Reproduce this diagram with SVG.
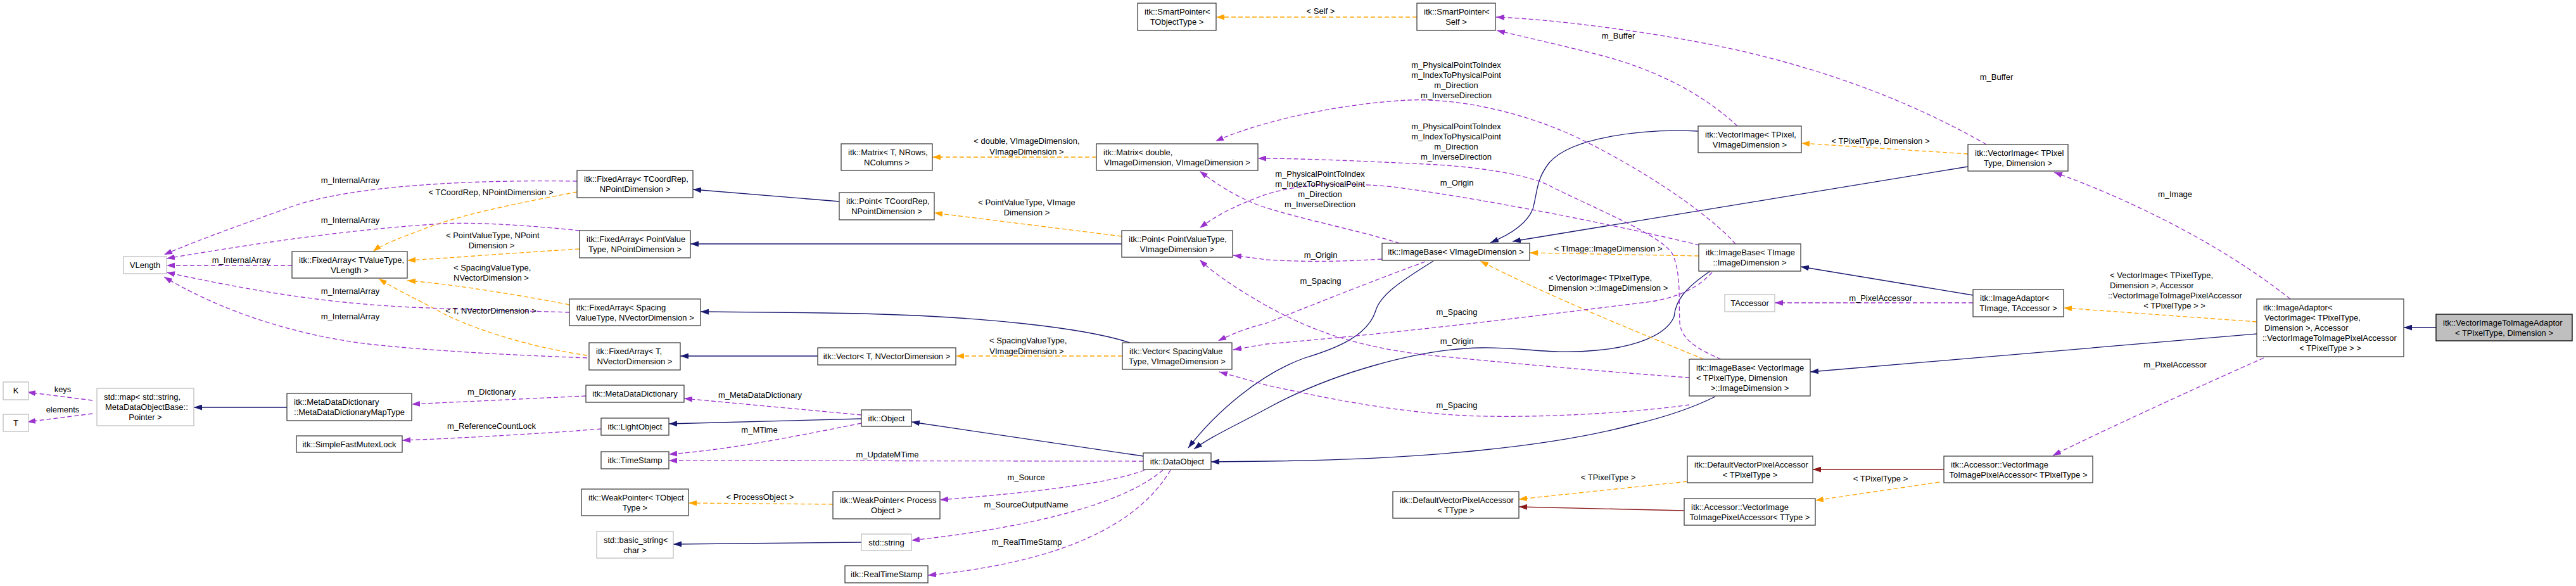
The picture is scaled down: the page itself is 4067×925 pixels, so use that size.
<svg xmlns="http://www.w3.org/2000/svg" width="4067" height="925" viewBox="0 0 4067 925">
<style>
text{font-family:"Liberation Sans",Arial,sans-serif;font-size:13px;fill:#000}
.c{text-anchor:middle}
.l{text-anchor:start}
.nd rect{fill:#fff;stroke:#404040;stroke-width:1.3}
.ng rect{fill:#fff;stroke:#bfbfbf;stroke-width:1.3}
.nm rect{fill:#bfbfbf;stroke:#000;stroke-width:1.3}
#edges path{fill:none;stroke-width:1.3}
.inh{stroke:#191970}
.prot{stroke:#8b1a1a}
.use{stroke:#9a32cd;stroke-dasharray:7,4}
.tpl{stroke:#ffa500;stroke-dasharray:7,4}
.inh{marker-end:url(#mb)}
.prot{marker-end:url(#mr)}
.use{marker-end:url(#mp)}
.tpl{marker-end:url(#mo)}
</style>
<defs>
<marker id="mb" viewBox="0 0 13 9" refX="13" refY="4.5" markerWidth="13" markerHeight="9" markerUnits="userSpaceOnUse" orient="auto"><path d="M0,0L13,4.5L0,9z" fill="#191970"/></marker>
<marker id="mr" viewBox="0 0 13 9" refX="13" refY="4.5" markerWidth="13" markerHeight="9" markerUnits="userSpaceOnUse" orient="auto"><path d="M0,0L13,4.5L0,9z" fill="#8b1a1a"/></marker>
<marker id="mp" viewBox="0 0 13 9" refX="13" refY="4.5" markerWidth="13" markerHeight="9" markerUnits="userSpaceOnUse" orient="auto"><path d="M0,0L13,4.5L0,9z" fill="#9a32cd"/></marker>
<marker id="mo" viewBox="0 0 13 9" refX="13" refY="4.5" markerWidth="13" markerHeight="9" markerUnits="userSpaceOnUse" orient="auto"><path d="M0,0L13,4.5L0,9z" fill="#ffa500"/></marker>
</defs>
<rect x="0" y="0" width="4067" height="925" fill="#fff"/>
<g id="edges">
<path class="inh" d="M3846,517L3795,517"/>
<path class="inh" d="M3563,527L2858,587"/>
<path class="inh" d="M3115,466L2843,421"/>
<path class="inh" d="M3107,263L2388,381"/>
<path class="inh" d="M2681,207C2600,203 2480,215 2445,258C2425,285 2428,300 2420,330C2410,355 2380,372 2353,383"/>
<path class="inh" d="M2263,412C2210,445 2180,465 2172,490C2160,530 2110,550 2060,565C1990,590 1920,650 1876,707"/>
<path class="inh" d="M2700,428C2660,455 2645,475 2643,500C2630,530 2580,548 2520,553C2450,560 2400,548 2340,549C2240,550 2100,590 2000,645C1950,672 1910,690 1885,709"/>
<path class="inh" d="M2708,626C2670,645 2630,658 2580,670C2450,705 2250,725 2000,728L1912,729"/>
<path class="inh" d="M1805,720L1439,666"/>
<path class="inh" d="M1360,661L1056,669"/>
<path class="inh" d="M1360,856L1063,859"/>
<path class="inh" d="M1784,541C1720,520 1560,497 1300,494L1106,492"/>
<path class="inh" d="M1291,562L1074,562"/>
<path class="inh" d="M1771,385L1090,385"/>
<path class="inh" d="M1325,318L1094,299"/>
<path class="inh" d="M453,643L306,643"/>
<path class="prot" d="M3069,741L2862,741"/>
<path class="prot" d="M2659,806L2398,800"/>
<path class="tpl" d="M3563,508L3258,486"/>
<path class="tpl" d="M3062,761L2866,790"/>
<path class="tpl" d="M2664,760L2398,788"/>
<path class="tpl" d="M3107,243L2844,226"/>
<path class="tpl" d="M2682,404L2415,399"/>
<path class="tpl" d="M2690,567C2600,530 2450,470 2337,412"/>
<path class="tpl" d="M2237,27L1920,27"/>
<path class="tpl" d="M1731,248L1472,248"/>
<path class="tpl" d="M1771,373L1475,336"/>
<path class="tpl" d="M1772,562L1509,562"/>
<path class="tpl" d="M1315,796L1087,794"/>
<path class="tpl" d="M911,303C820,320 720,340 660,365C625,378 600,388 589,397"/>
<path class="tpl" d="M915,393C800,400 700,408 643,411"/>
<path class="tpl" d="M899,481C800,462 700,447 643,443"/>
<path class="tpl" d="M927,561C850,550 760,525 700,495C670,478 630,460 598,440"/>
<path class="use" d="M146,632L43,619"/>
<path class="use" d="M146,653L43,666"/>
<path class="use" d="M925,625L650,638"/>
<path class="use" d="M949,677C850,685 700,693 635,695"/>
<path class="use" d="M461,419L263,419"/>
<path class="use" d="M911,286C700,283 530,298 450,330C380,355 310,380 259,402"/>
<path class="use" d="M915,364C850,357 750,350 700,353C550,362 400,385 263,408"/>
<path class="use" d="M899,493C800,490 720,488 650,485C500,478 380,455 263,430"/>
<path class="use" d="M927,565C800,560 700,555 600,545C450,530 330,480 259,437"/>
<path class="use" d="M1360,655L1080,629"/>
<path class="use" d="M1360,668C1250,690 1150,710 1056,717"/>
<path class="use" d="M1805,728L1056,727"/>
<path class="use" d="M1807,742C1750,765 1600,780 1484,789"/>
<path class="use" d="M1836,742C1780,790 1650,830 1439,853"/>
<path class="use" d="M1848,742C1790,840 1650,890 1465,908"/>
<path class="use" d="M3616,472C3500,380 3350,310 3243,272"/>
<path class="use" d="M3574,565C3450,620 3320,680 3241,719"/>
<path class="use" d="M3115,478L2802,478"/>
<path class="use" d="M2743,199C2690,150 2620,112 2530,88C2460,70 2400,57 2363,48"/>
<path class="use" d="M3136,228C3000,150 2850,100 2700,70C2600,50 2450,30 2362,27"/>
<path class="use" d="M2740,385C2700,340 2600,270 2490,217C2400,175 2300,155 2223,158C2100,165 1980,195 1919,223"/>
<path class="use" d="M2717,567C2690,555 2655,540 2652,510C2650,480 2655,430 2640,400C2620,370 2520,330 2450,295C2420,278 2350,265 2268,260C2150,254 2050,250 1986,250"/>
<path class="use" d="M2210,384C2150,365 2050,345 1990,325C1950,310 1920,290 1894,270"/>
<path class="use" d="M2683,387C2550,355 2350,315 2200,295C2100,285 2030,295 1990,310C1950,325 1920,340 1894,360"/>
<path class="use" d="M2182,409C2100,414 2050,413 2000,410L1947,403"/>
<path class="use" d="M2667,596C2550,588 2400,575 2250,560C2120,545 2050,510 2000,483C1960,460 1920,435 1894,410"/>
<path class="use" d="M2250,413C2150,450 2050,490 2000,510C1960,520 1940,530 1923,538"/>
<path class="use" d="M2703,430C2680,455 2650,470 2600,477C2450,495 2250,522 2000,543L1947,552"/>
<path class="use" d="M2667,639C2550,655 2400,660 2313,656C2200,650 2100,630 2000,608L1925,587"/>
<text class="l" x="3331" y="439">&lt; VectorImage&lt; TPixelType,</text>
<text class="l" x="3331" y="455">Dimension &gt;, Accessor</text>
<text class="l" x="3328" y="471">::VectorImageToImagePixelAccessor</text>
<text class="c" x="3433" y="487">&lt; TPixelType &gt; &gt;</text>
<text class="c" x="2969" y="760">&lt; TPixelType &gt;</text>
<text class="c" x="2539" y="758">&lt; TPixelType &gt;</text>
<text class="c" x="2969" y="227">&lt; TPixelType, Dimension &gt;</text>
<text class="c" x="2539" y="397">&lt; TImage::ImageDimension &gt;</text>
<text class="l" x="2445" y="443">&lt; VectorImage&lt; TPixelType,</text>
<text class="c" x="2539" y="459">Dimension &gt;::ImageDimension &gt;</text>
<text class="c" x="2085" y="22">&lt; Self &gt;</text>
<text class="c" x="1621" y="227">&lt; double, VImageDimension,</text>
<text class="c" x="1621" y="244">VImageDimension &gt;</text>
<text class="c" x="1621" y="324">&lt; PointValueType, VImage</text>
<text class="c" x="1621" y="340">Dimension &gt;</text>
<text class="l" x="1562" y="542">&lt; SpacingValueType,</text>
<text class="c" x="1621" y="559">VImageDimension &gt;</text>
<text class="c" x="1200" y="789">&lt; ProcessObject &gt;</text>
<text class="c" x="775" y="308">&lt; TCoordRep, NPointDimension &gt;</text>
<text class="l" x="704" y="376">&lt; PointValueType, NPoint</text>
<text class="c" x="776" y="392">Dimension &gt;</text>
<text class="l" x="716" y="427">&lt; SpacingValueType,</text>
<text class="l" x="716" y="443">NVectorDimension &gt;</text>
<text class="c" x="775" y="495">&lt; T, NVectorDimension &gt;</text>
<text class="c" x="99" y="619">keys</text>
<text class="c" x="99" y="651">elements</text>
<text class="c" x="776" y="623">m_Dictionary</text>
<text class="c" x="776" y="677">m_ReferenceCountLock</text>
<text class="c" x="381" y="415">m_InternalArray</text>
<text class="c" x="553" y="289">m_InternalArray</text>
<text class="c" x="553" y="352">m_InternalArray</text>
<text class="c" x="553" y="464">m_InternalArray</text>
<text class="c" x="553" y="504">m_InternalArray</text>
<text class="c" x="1200" y="628">m_MetaDataDictionary</text>
<text class="c" x="1199" y="683">m_MTime</text>
<text class="c" x="1401" y="722">m_UpdateMTime</text>
<text class="c" x="1620" y="758">m_Source</text>
<text class="c" x="1620" y="801">m_SourceOutputName</text>
<text class="c" x="1621" y="860">m_RealTimeStamp</text>
<text class="c" x="3434" y="311">m_Image</text>
<text class="c" x="3434" y="580">m_PixelAccessor</text>
<text class="c" x="2969" y="475">m_PixelAccessor</text>
<text class="c" x="2555" y="61">m_Buffer</text>
<text class="c" x="3152" y="126">m_Buffer</text>
<text class="c" x="2299" y="107">m_PhysicalPointToIndex</text>
<text class="c" x="2299" y="123">m_IndexToPhysicalPoint</text>
<text class="c" x="2299" y="139">m_Direction</text>
<text class="c" x="2299" y="155">m_InverseDirection</text>
<text class="c" x="2299" y="204">m_PhysicalPointToIndex</text>
<text class="c" x="2299" y="220">m_IndexToPhysicalPoint</text>
<text class="c" x="2299" y="236">m_Direction</text>
<text class="c" x="2299" y="252">m_InverseDirection</text>
<text class="c" x="2084" y="279">m_PhysicalPointToIndex</text>
<text class="c" x="2084" y="295">m_IndexToPhysicalPoint</text>
<text class="c" x="2084" y="311">m_Direction</text>
<text class="c" x="2084" y="327">m_InverseDirection</text>
<text class="c" x="2300" y="293">m_Origin</text>
<text class="c" x="2085" y="407">m_Origin</text>
<text class="c" x="2300" y="543">m_Origin</text>
<text class="c" x="2085" y="448">m_Spacing</text>
<text class="c" x="2300" y="497">m_Spacing</text>
<text class="c" x="2300" y="644">m_Spacing</text>
</g>
<g id="n_K" class="ng"><rect x="5" y="603" width="40" height="28"/><text class="c" x="25" y="621">K</text></g>
<g id="n_T" class="ng"><rect x="5" y="654" width="40" height="27"/><text class="c" x="25" y="672">T</text></g>
<g id="n_stdmap" class="ng"><rect x="153" y="613" width="153" height="59"/><text class="l" x="164" y="631">std::map&lt; std::string,</text><text class="l" x="166" y="647">MetaDataObjectBase::</text><text class="c" x="229.5" y="663">Pointer &gt;</text></g>
<g id="n_VLength" class="ng"><rect x="195" y="405" width="68" height="27"/><text class="c" x="229" y="423">VLength</text></g>
<g id="n_FixedArrayTV" class="nd"><rect x="461" y="397" width="182" height="42"/><text class="l" x="472" y="415">itk::FixedArray&lt; TValueType,</text><text class="c" x="552" y="431">VLength &gt;</text></g>
<g id="n_MapType" class="nd"><rect x="453" y="621" width="197" height="43"/><text class="l" x="464" y="639">itk::MetaDataDictionary</text><text class="c" x="551.5" y="655">::MetaDataDictionaryMapType</text></g>
<g id="n_Mutex" class="nd"><rect x="468" y="688" width="167" height="26"/><text class="c" x="551.5" y="706">itk::SimpleFastMutexLock</text></g>
<g id="n_FixedArrayTC" class="nd"><rect x="911" y="269" width="183" height="43"/><text class="l" x="922" y="287">itk::FixedArray&lt; TCoordRep,</text><text class="c" x="1002.5" y="303">NPointDimension &gt;</text></g>
<g id="n_FixedArrayPV" class="nd"><rect x="915" y="364" width="175" height="43"/><text class="l" x="926" y="382">itk::FixedArray&lt; PointValue</text><text class="c" x="1002.5" y="398">Type, NPointDimension &gt;</text></g>
<g id="n_FixedArraySV" class="nd"><rect x="899" y="472" width="207" height="42"/><text class="l" x="910" y="490">itk::FixedArray&lt; Spacing</text><text class="c" x="1002.5" y="506">ValueType, NVectorDimension &gt;</text></g>
<g id="n_FixedArrayT" class="nd"><rect x="930" y="541" width="144" height="43"/><text class="l" x="941" y="559">itk::FixedArray&lt; T,</text><text class="c" x="1002" y="575">NVectorDimension &gt;</text></g>
<g id="n_MDD" class="nd"><rect x="925" y="608" width="155" height="27"/><text class="c" x="1002.5" y="626">itk::MetaDataDictionary</text></g>
<g id="n_LightObject" class="nd"><rect x="949" y="660" width="107" height="27"/><text class="c" x="1002.5" y="678">itk::LightObject</text></g>
<g id="n_TimeStamp" class="nd"><rect x="949" y="713" width="107" height="27"/><text class="c" x="1002.5" y="731">itk::TimeStamp</text></g>
<g id="n_WeakPointerT" class="nd"><rect x="918" y="772" width="169" height="42"/><text class="l" x="929" y="790">itk::WeakPointer&lt; TObject</text><text class="c" x="1002.5" y="806">Type &gt;</text></g>
<g id="n_basic_string" class="ng"><rect x="942" y="839" width="121" height="42"/><text class="l" x="953" y="857">std::basic_string&lt;</text><text class="c" x="1002.5" y="873">char &gt;</text></g>
<g id="n_MatrixT" class="nd"><rect x="1328" y="227" width="144" height="42"/><text class="l" x="1339" y="245">itk::Matrix&lt; T, NRows,</text><text class="c" x="1400" y="261">NColumns &gt;</text></g>
<g id="n_PointTC" class="nd"><rect x="1325" y="304" width="150" height="43"/><text class="l" x="1336" y="322">itk::Point&lt; TCoordRep,</text><text class="c" x="1400" y="338">NPointDimension &gt;</text></g>
<g id="n_VectorT" class="nd"><rect x="1291" y="549" width="218" height="27"/><text class="c" x="1400" y="567">itk::Vector&lt; T, NVectorDimension &gt;</text></g>
<g id="n_Object" class="nd"><rect x="1360" y="647" width="79" height="26"/><text class="c" x="1399.5" y="665">itk::Object</text></g>
<g id="n_WeakPointerPO" class="nd"><rect x="1315" y="776" width="169" height="43"/><text class="l" x="1326" y="794">itk::WeakPointer&lt; Process</text><text class="c" x="1399.5" y="810">Object &gt;</text></g>
<g id="n_string" class="ng"><rect x="1360" y="843" width="79" height="26"/><text class="c" x="1399.5" y="861">std::string</text></g>
<g id="n_RealTimeStamp" class="nd"><rect x="1334" y="893" width="131" height="27"/><text class="c" x="1399.5" y="911">itk::RealTimeStamp</text></g>
<g id="n_SmartPointerT" class="nd"><rect x="1796" y="5" width="124" height="43"/><text class="l" x="1807" y="23">itk::SmartPointer&lt;</text><text class="c" x="1858" y="39">TObjectType &gt;</text></g>
<g id="n_SmartPointerSelf" class="nd"><rect x="2237" y="5" width="124" height="43"/><text class="l" x="2248" y="23">itk::SmartPointer&lt;</text><text class="c" x="2299" y="39">Self &gt;</text></g>
<g id="n_MatrixD" class="nd"><rect x="1731" y="227" width="255" height="42"/><text class="l" x="1742" y="245">itk::Matrix&lt; double,</text><text class="c" x="1858.5" y="261">VImageDimension, VImageDimension &gt;</text></g>
<g id="n_PointPV" class="nd"><rect x="1771" y="364" width="175" height="42"/><text class="l" x="1782" y="382">itk::Point&lt; PointValueType,</text><text class="c" x="1858.5" y="398">VImageDimension &gt;</text></g>
<g id="n_VectorSV" class="nd"><rect x="1772" y="541" width="173" height="42"/><text class="l" x="1783" y="559">itk::Vector&lt; SpacingValue</text><text class="c" x="1858.5" y="575">Type, VImageDimension &gt;</text></g>
<g id="n_DataObject" class="nd"><rect x="1805" y="715" width="107" height="26"/><text class="c" x="1858.5" y="733">itk::DataObject</text></g>
<g id="n_ImageBaseV" class="nd"><rect x="2182" y="384" width="233" height="27"/><text class="c" x="2298.5" y="402">itk::ImageBase&lt; VImageDimension &gt;</text></g>
<g id="n_DVPA_TType" class="nd"><rect x="2199" y="776" width="199" height="42"/><text class="l" x="2210" y="794">itk::DefaultVectorPixelAccessor</text><text class="c" x="2298.5" y="810">&lt; TType &gt;</text></g>
<g id="n_VectorImageV" class="nd"><rect x="2681" y="199" width="163" height="42"/><text class="l" x="2692" y="217">itk::VectorImage&lt; TPixel,</text><text class="c" x="2762.5" y="233">VImageDimension &gt;</text></g>
<g id="n_ImageBaseT" class="nd"><rect x="2682" y="385" width="161" height="43"/><text class="l" x="2693" y="403">itk::ImageBase&lt; TImage</text><text class="c" x="2762.5" y="419">::ImageDimension &gt;</text></g>
<g id="n_TAccessor" class="ng"><rect x="2723" y="465" width="79" height="27"/><text class="c" x="2762.5" y="483">TAccessor</text></g>
<g id="n_ImageBaseVI" class="nd"><rect x="2667" y="567" width="191" height="58"/><text class="l" x="2678" y="585">itk::ImageBase&lt; VectorImage</text><text class="l" x="2678" y="601">&lt; TPixelType, Dimension</text><text class="c" x="2762.5" y="617">&gt;::ImageDimension &gt;</text></g>
<g id="n_DVPA_TPixelType" class="nd"><rect x="2664" y="720" width="198" height="42"/><text class="l" x="2675" y="738">itk::DefaultVectorPixelAccessor</text><text class="c" x="2763" y="754">&lt; TPixelType &gt;</text></g>
<g id="n_AccessorTType" class="nd"><rect x="2659" y="787" width="207" height="42"/><text class="l" x="2670" y="805">itk::Accessor::VectorImage</text><text class="c" x="2762.5" y="821">ToImagePixelAccessor&lt; TType &gt;</text></g>
<g id="n_VectorImageTP" class="nd"><rect x="3107" y="228" width="158" height="42"/><text class="l" x="3118" y="246">itk::VectorImage&lt; TPixel</text><text class="c" x="3186" y="262">Type, Dimension &gt;</text></g>
<g id="n_ImageAdaptorT" class="nd"><rect x="3115" y="457" width="143" height="43"/><text class="l" x="3126" y="475">itk::ImageAdaptor&lt;</text><text class="c" x="3186.5" y="491">TImage, TAccessor &gt;</text></g>
<g id="n_AccessorTP" class="nd"><rect x="3069" y="720" width="235" height="42"/><text class="l" x="3080" y="738">itk::Accessor::VectorImage</text><text class="c" x="3186.5" y="754">ToImagePixelAccessor&lt; TPixelType &gt;</text></g>
<g id="n_ImageAdaptorVI" class="nd"><rect x="3563" y="472" width="232" height="91"/><text class="l" x="3573" y="490">itk::ImageAdaptor&lt;</text><text class="l" x="3575" y="506">VectorImage&lt; TPixelType,</text><text class="l" x="3575" y="522">Dimension &gt;, Accessor</text><text class="l" x="3572" y="538">::VectorImageToImagePixelAccessor</text><text class="c" x="3679" y="554">&lt; TPixelType &gt; &gt;</text></g>
<g id="n_VectorImageToImageAdaptor" class="nm"><rect x="3846" y="496" width="215" height="42"/><text class="l" x="3857" y="514">itk::VectorImageToImageAdaptor</text><text class="c" x="3953.5" y="530">&lt; TPixelType, Dimension &gt;</text></g>
</svg>
